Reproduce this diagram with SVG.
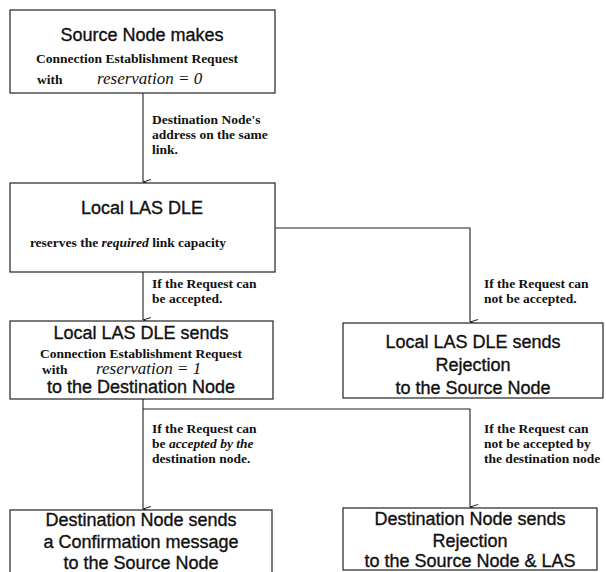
<svg xmlns="http://www.w3.org/2000/svg" width="606" height="572" viewBox="0 0 606 572">
<defs>
<marker id="arr" markerWidth="10" markerHeight="12" refX="5" refY="10" orient="auto" markerUnits="userSpaceOnUse">
<path d="M2.5,2 L5,10 L7.5,2" fill="none" stroke="#222" stroke-width="1"/>
</marker>
<style>
.box{fill:#fff;stroke:#222;stroke-width:1.2}
.sans{font-family:"Liberation Sans",Arial,sans-serif;font-size:18px;fill:#111;stroke:#111;stroke-width:0.35;text-anchor:middle}
.ser{font-family:"Liberation Serif","Times New Roman",serif;font-size:13.5px;font-weight:bold;fill:#111}
.mid{text-anchor:middle}
.it{font-style:italic;font-weight:normal;font-size:17px}
.lbl{font-family:"Liberation Serif","Times New Roman",serif;font-size:13.5px;font-weight:bold;fill:#111}
.ln{fill:none;stroke:#222;stroke-width:1.1}
</style>
</defs>
<rect width="606" height="572" fill="#fff"/>
<g id="connectors">
<path class="ln" d="M143,93 V182" marker-end="url(#arr)"/>
<path class="ln" d="M143,272 V320" marker-end="url(#arr)"/>
<path class="ln" d="M275,228 H470 V322" marker-end="url(#arr)"/>
<path class="ln" d="M143,399 V509" marker-end="url(#arr)"/>
<path class="ln" d="M143,409 H470 V507" marker-end="url(#arr)"/>
<text class="lbl" x="152" y="124">Destination Node's</text>
<text class="lbl" x="152" y="139">address on the same</text>
<text class="lbl" x="152" y="154">link.</text>
<text class="lbl" x="152" y="288">If the Request can</text>
<text class="lbl" x="152" y="303">be accepted.</text>
<text class="lbl" x="484" y="288">If the Request can</text>
<text class="lbl" x="484" y="303">not be accepted.</text>
<text class="lbl" x="152" y="433">If the Request can</text>
<text class="lbl" x="152" y="448">be <tspan font-style="italic">accepted by the</tspan></text>
<text class="lbl" x="152" y="463">destination node.</text>
<text class="lbl" x="484" y="433">If the Request can</text>
<text class="lbl" x="484" y="448">not be accepted by</text>
<text class="lbl" x="484" y="463">the destination node</text>
</g>
<g id="n1">
<rect class="box" x="10" y="10" width="265" height="83"/>
<text class="sans" x="142" y="41" font-size="19.5">Source Node makes</text>
<text class="ser mid" x="137" y="63">Connection Establishment Request</text>
<text class="ser" x="37" y="84">with</text>
<text class="ser it" x="97" y="84">reservation = 0</text>
</g>
<g id="n2">
<rect class="box" x="10" y="183" width="265" height="89"/>
<text class="sans" x="142" y="214" font-size="18.5">Local LAS DLE</text>
<text class="ser mid" x="128" y="247" font-size="14.5">reserves the <tspan font-style="italic">required</tspan> link capacity</text>
</g>
<g id="n3">
<rect class="box" x="10" y="321" width="263" height="78"/>
<text class="sans" x="141" y="339">Local LAS DLE sends</text>
<text class="ser mid" x="141" y="357.5" font-size="13">Connection Establishment Request</text>
<text class="ser" x="42" y="374" font-size="13">with</text>
<text class="ser it" x="96" y="374" font-size="16">reservation = 1</text>
<text class="sans" x="141" y="393">to the Destination Node</text>
</g>
<g id="n4">
<rect class="box" x="343" y="323" width="260" height="75"/>
<text class="sans" x="473" y="348">Local LAS DLE sends</text>
<text class="sans" x="473" y="371">Rejection</text>
<text class="sans" x="473" y="394">to the Source Node</text>
</g>
<g id="n5">
<rect class="box" x="10" y="510" width="262" height="64"/>
<text class="sans" x="141" y="526" font-size="17.2">Destination Node sends</text>
<text class="sans" x="141" y="548" font-size="17.2">a Confirmation message</text>
<text class="sans" x="141" y="569" font-size="17.2">to the Source Node</text>
</g>
<g id="n6">
<rect class="box" x="343" y="508" width="254" height="62"/>
<text class="sans" x="470" y="525" font-size="17.2">Destination Node sends</text>
<text class="sans" x="470" y="547" font-size="17.2">Rejection</text>
<text class="sans" x="470" y="567" font-size="17.2">to the Source Node &amp; LAS</text>
</g>
</svg>
